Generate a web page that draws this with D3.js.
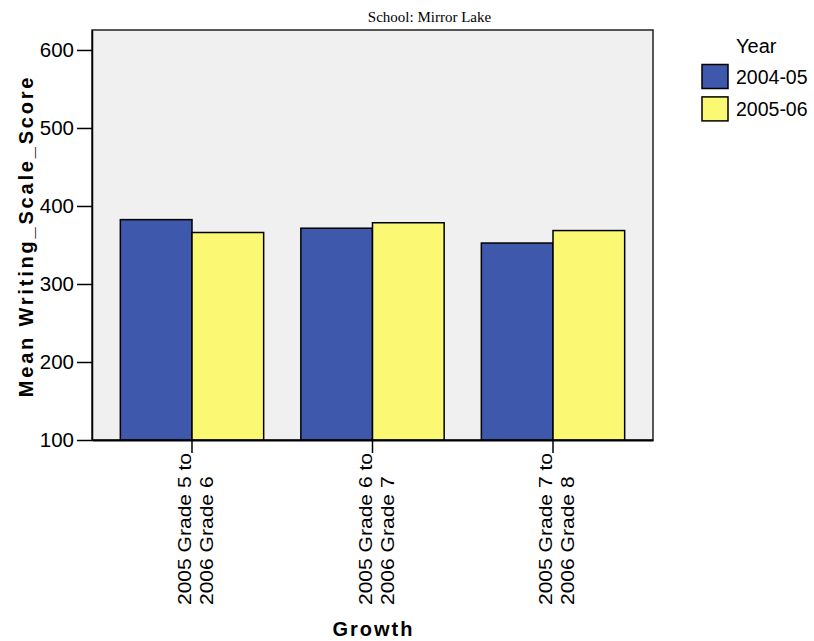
<!DOCTYPE html>
<html>
<head>
<meta charset="utf-8">
<script src="https://cdn.jsdelivr.net/npm/d3@7"></script>
<style>
  body { margin: 0; background: #fff; }
  text { font-family: "Liberation Sans", Arial, sans-serif; fill: #000; }
</style>
</head>
<body>
<div id="chart"></div>
<script>
const categories = [
    ['2005 Grade 5 to', '2006 Grade 6'],
    ['2005 Grade 6 to', '2006 Grade 7'],
    ['2005 Grade 7 to', '2006 Grade 8']
];
const years = ['2004-05', '2005-06'];
const scores2004 = [382.5, 371.5, 352.5];
const scores2005 = [366, 378.5, 368.5];
const yTicks = [100, 200, 300, 400, 500, 600];
const colors = ['#3e58ac', '#fbf873'];

const width = 814, height = 641;
const margin = { top: 30, right: 161, bottom: 201, left: 92 };
const plotW = width - margin.left - margin.right;
const plotH = height - margin.top - margin.bottom;

const svg = d3.select('#chart').append('svg')
    .attr('width', width)
    .attr('height', height);

const g = svg.append('g')
    .attr('transform', 'translate(' + margin.left + ',' + margin.top + ')');

const catKeys = categories.map(c => c.join(' '));
const x = d3.scaleBand()
    .domain(catKeys)
    .range([0, plotW])
    .paddingInner(0.206)
    .paddingOuter(0.157);

const xInner = d3.scaleBand()
    .domain(years)
    .range([0, x.bandwidth()]);

const y = d3.scaleLinear()
    .domain([100, 625.6])
    .range([plotH, 0]);

// plot background
g.append('rect')
    .attr('width', plotW)
    .attr('height', plotH)
    .attr('fill', '#f0f0f0')
    .attr('stroke', '#222')
    .attr('stroke-width', 1.5);

// bars
const rows = catKeys.map((k, i) => ({ key: k, values: [scores2004[i], scores2005[i]] }));
const groups = g.selectAll('.grp')
    .data(rows)
    .enter().append('g')
    .attr('transform', d => 'translate(' + x(d.key) + ',0)');

groups.selectAll('rect')
    .data(d => d.values.map((v, j) => ({ year: years[j], value: v, color: colors[j] })))
    .enter().append('rect')
    .attr('x', d => xInner(d.year))
    .attr('y', d => y(d.value))
    .attr('width', xInner.bandwidth())
    .attr('height', d => plotH - y(d.value))
    .attr('fill', d => d.color)
    .attr('stroke', '#000')
    .attr('stroke-width', 1.5);

// y axis
const yAxis = d3.axisLeft(y)
    .tickValues(yTicks)
    .tickSize(15)
    .tickSizeOuter(0)
    .tickPadding(3);
const yg = g.append('g').call(yAxis);
yg.select('.domain').attr('stroke', '#000').attr('stroke-width', 1.5);
yg.selectAll('.tick line').attr('stroke', '#000').attr('stroke-width', 1.5);
yg.selectAll('.tick text')
    .style('font-family', '"Liberation Sans", Arial, sans-serif')
    .style('font-size', '20.5px')
    .attr('fill', '#000');

// x axis
const xAxis = d3.axisBottom(x)
    .tickSize(13)
    .tickSizeOuter(0)
    .tickFormat('');
const xg = g.append('g')
    .attr('transform', 'translate(0,' + plotH + ')')
    .call(xAxis);
xg.select('.domain').attr('stroke', '#000').attr('stroke-width', 2);
xg.selectAll('.tick line').attr('stroke', '#000').attr('stroke-width', 1.5);

// rotated two-line category labels
const stretch = 1.12;
categories.forEach((lines, i) => {
    const cx = x(catKeys[i]) + x.bandwidth() / 2;
    const label = g.append('g');
    const texts = lines.map((line, j) => label.append('text')
        .attr('font-size', 18.8)
        .attr('text-anchor', 'start')
        .text(line));
    const longest = d3.max(texts, t => t.node().getComputedTextLength()) * stretch;
    const startY = plotH + 13 + longest;
    texts.forEach((t, j) => {
        t.attr('transform', 'translate(' + (cx - 1 + j * 22) + ',' + startY + ') rotate(-90) scale(' + stretch + ',1)');
    });
});

// axis titles
svg.append('text')
    .attr('transform', 'translate(33,' + (margin.top + plotH / 2 + 1) + ') rotate(-90)')
    .attr('text-anchor', 'middle')
    .attr('font-size', 20)
    .attr('font-weight', 'bold')
    .attr('letter-spacing', 2.8)
    .text('Mean Writing_Scale_Score');

svg.append('text')
    .attr('x', margin.left + plotW / 2 + 1)
    .attr('y', 636)
    .attr('text-anchor', 'middle')
    .attr('font-size', 20)
    .attr('font-weight', 'bold')
    .attr('letter-spacing', 2)
    .text('Growth');

// chart title
svg.append('text')
    .attr('x', 429.5)
    .attr('y', 22)
    .attr('text-anchor', 'middle')
    .style('font-family', '"Liberation Serif", "Times New Roman", serif')
    .attr('font-size', 15)
    .text('School: Mirror Lake');

// legend
const legend = svg.append('g').attr('transform', 'translate(702,0)');
legend.append('text')
    .attr('x', 34)
    .attr('y', 53)
    .attr('font-size', 20)
    .text('Year');
years.forEach((yr, i) => {
    legend.append('rect')
        .attr('x', 0)
        .attr('y', 64.5 + i * 32.4)
        .attr('width', 26)
        .attr('height', 24)
        .attr('fill', colors[i])
        .attr('stroke', '#000')
        .attr('stroke-width', 1.5);
    legend.append('text')
        .attr('x', 34)
        .attr('y', 83.5 + i * 32.4)
        .attr('font-size', 19.5)
        .text(yr);
});
</script>
</body>
</html>
